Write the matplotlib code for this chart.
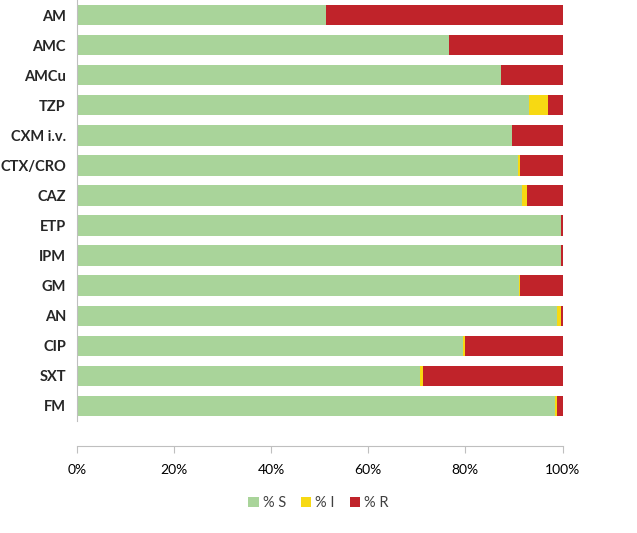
import numpy as np
import matplotlib
matplotlib.use("Agg")
import matplotlib.pyplot as plt

# Data, top to bottom
drugs = ['AM', 'AMC', 'AMCu', 'TZP', 'CXM i.v.', 'CTX/CRO', 'CAZ',
         'ETP', 'IPM', 'GM', 'AN', 'CIP', 'SXT', 'FM']
pct_s = [51.2, 76.7, 87.4, 93.2, 89.7, 90.9, 91.7, 99.7, 99.7, 91.1, 98.8, 79.6, 70.6, 98.5]
pct_i = [0.0, 0.0, 0.0, 3.9, 0.0, 0.3, 1.0, 0.0, 0.0, 0.2, 0.8, 0.4, 0.6, 0.3]
pct_r = [48.8, 23.3, 12.6, 2.9, 10.3, 8.8, 7.3, 0.3, 0.3, 8.7, 0.4, 20.0, 28.8, 1.2]
series_names = ['% S', '% I', '% R']
colors = ['#A9D49A', '#F7D913', '#C0232A']

plt.rcParams['font.family'] = ['Lato', 'DejaVu Sans']

fig = plt.figure(figsize=(6.37, 5.33), dpi=100)
ax = fig.add_axes([77 / 637, 1 - 421 / 533, (562.5 - 77) / 637, 421 / 533])

y = np.arange(len(drugs))
s = np.array(pct_s)
i = np.array(pct_i)
r = np.array(pct_r)
ax.barh(y, s, height=0.68, color=colors[0], label=series_names[0])
ax.barh(y, i, left=s, height=0.68, color=colors[1], label=series_names[1])
ax.barh(y, r, left=s + i, height=0.68, color=colors[2], label=series_names[2])

ax.set_ylim(len(drugs) - 0.5, -0.5)
ax.set_xlim(0, 100)
ax.set_yticks(y)
ax.set_yticklabels(drugs, fontsize=10.5, fontweight='bold', color='#262626')
ax.tick_params(axis='y', length=0, pad=8)

ax.set_xticks(np.arange(0, 101, 20))
ax.set_xticklabels([f'{v}%' for v in range(0, 101, 20)], fontsize=11, color='#9A9A9A')
ax.tick_params(axis='x', length=5, color='#BFBFBF', pad=8)

for side in ['top', 'right']:
    ax.spines[side].set_visible(False)
ax.spines['left'].set_color('#BFBFBF')
ax.spines['bottom'].set_color('#BFBFBF')
ax.spines['bottom'].set_position(('outward', 18))

leg = fig.legend(loc='center', bbox_to_anchor=(0.5, 1 - 503 / 533), ncol=3,
                 frameon=False, fontsize=10.5, handlelength=0.7, handleheight=0.7,
                 handletextpad=0.3, columnspacing=1.0)
for t in leg.get_texts():
    t.set_color('#404040')

fig.savefig('out.png', dpi=100)
